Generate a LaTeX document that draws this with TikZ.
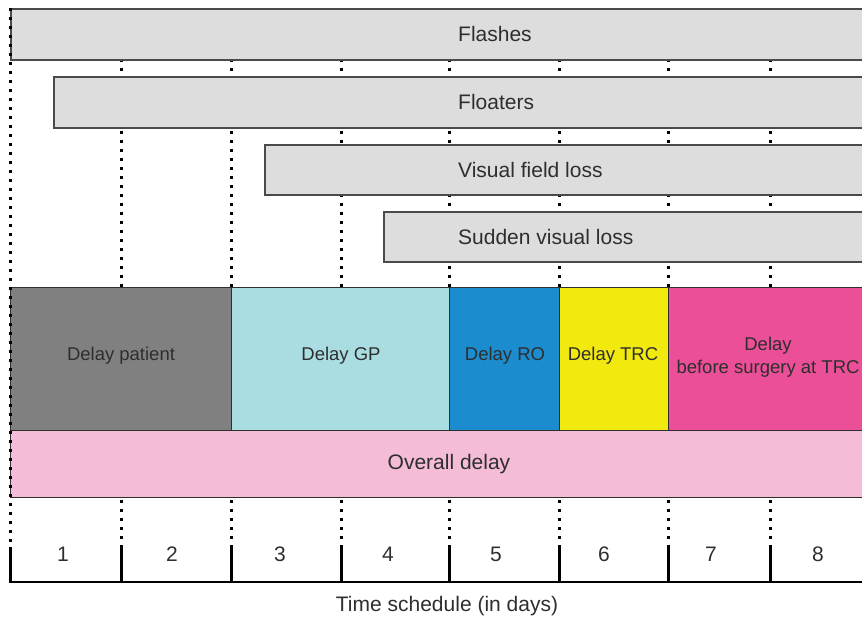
\documentclass[tikz,border=0pt]{standalone}
\usepackage{fontspec}
\setmainfont{Liberation Sans}
\definecolor{boxgray}{HTML}{DDDDDD}
\definecolor{boxline}{HTML}{4A4A4A}
\definecolor{txt}{HTML}{2E2E2E}
\definecolor{cpatient}{HTML}{808080}
\definecolor{cgp}{HTML}{A9DDE1}
\definecolor{cro}{HTML}{1B8DCF}
\definecolor{ctrc}{HTML}{F2EA0E}
\definecolor{csurg}{HTML}{EA4F97}
\definecolor{coverall}{HTML}{F4BCD6}
\begin{document}
\begin{tikzpicture}[x=1pt,y=-1pt,
  graybox/.style={draw=boxline, fill=boxgray, line width=1.6pt, inner sep=0pt, anchor=north west},
  delaybox/.style={draw=txt, line width=1.1pt, inner sep=0pt, anchor=north west, minimum height=143pt},
  barlabel/.style={anchor=west, text=txt, font=\fontsize{21}{25}\selectfont, inner sep=0pt},
  dlabel/.style={text=txt, font=\fontsize{18.5}{23.5}\selectfont, align=center, inner sep=0pt},
  daylabel/.style={text=txt, font=\fontsize{21}{25}\selectfont, inner sep=0pt},
  dotline/.style={line width=3pt, dash pattern=on 3pt off 6pt, black},
  tickline/.style={line width=3pt, black}]
\useasboundingbox (0,0) rectangle (862,618);
\clip (0,0) rectangle (862,618);
% dotted grid lines
\foreach \x in {121,231,341,449,559,668,770}
  \draw[dotline] (\x,59) -- (\x,547);
% symptom bars
\node[graybox, minimum width=870pt, minimum height=51pt] (flashes) at (10,8) {};
\node[graybox, minimum width=830pt, minimum height=51pt] (floaters) at (53,76) {};
\node[graybox, minimum width=620pt, minimum height=50pt] (vfl) at (264,144) {};
\node[graybox, minimum width=500pt, minimum height=50pt] (svl) at (383,211) {};
\node[barlabel] (tflashes) at (458,34) {Flashes};
\node[barlabel] (tfloaters) at (458,102) {Floaters};
\node[barlabel] (tvfl) at (458,170) {Visual field loss};
\node[barlabel] (tsvl) at (458,237) {Sudden visual loss};
% delay blocks
\node[delaybox, fill=cpatient, minimum width=221pt] (patient) at (10,287) {};
\node[delaybox, fill=cgp, minimum width=218pt] (gp) at (231,287) {};
\node[delaybox, fill=cro, minimum width=110pt] (ro) at (449,287) {};
\node[delaybox, fill=ctrc, minimum width=109pt] (trc) at (559,287) {};
\node[delaybox, fill=csurg, minimum width=210pt] (surg) at (668,287) {};
\node[dlabel] at (121,356) {Delay patient};
\node[dlabel] at (341,356) {Delay GP};
\node[dlabel] at (505,356) {Delay RO};
\node[dlabel] at (613,356) {Delay TRC};
\node[dlabel] at (768,357) {Delay\\before surgery at TRC};
% overall delay
\node[draw=txt, line width=1.1pt, fill=coverall, inner sep=0pt, anchor=north west, minimum width=870pt, minimum height=67pt] (overall) at (10,430) {};
\node[barlabel, anchor=center] at (449,464) {Overall delay};
% left dotted edge
\draw[dotline] (10,8) -- (10,547);
% solid ticks and axis
\foreach \x in {10,121,231,341,449,559,668,770}
  \draw[tickline] (\x,547) -- (\x,582);
\coordinate (axl) at (8.5,582);
\coordinate (axr) at (862,582);
\draw[line width=2.6pt] (axl) -- (axr);
% day numbers
\foreach \x/\n in {63/1,172/2,280/3,388/4,496/5,604/6,711/7,818/8}
  \node[daylabel] at (\x,554) {\n};
\node[daylabel] (axis) at (447,606) {Time schedule (in days)};
\end{tikzpicture}
\end{document}
